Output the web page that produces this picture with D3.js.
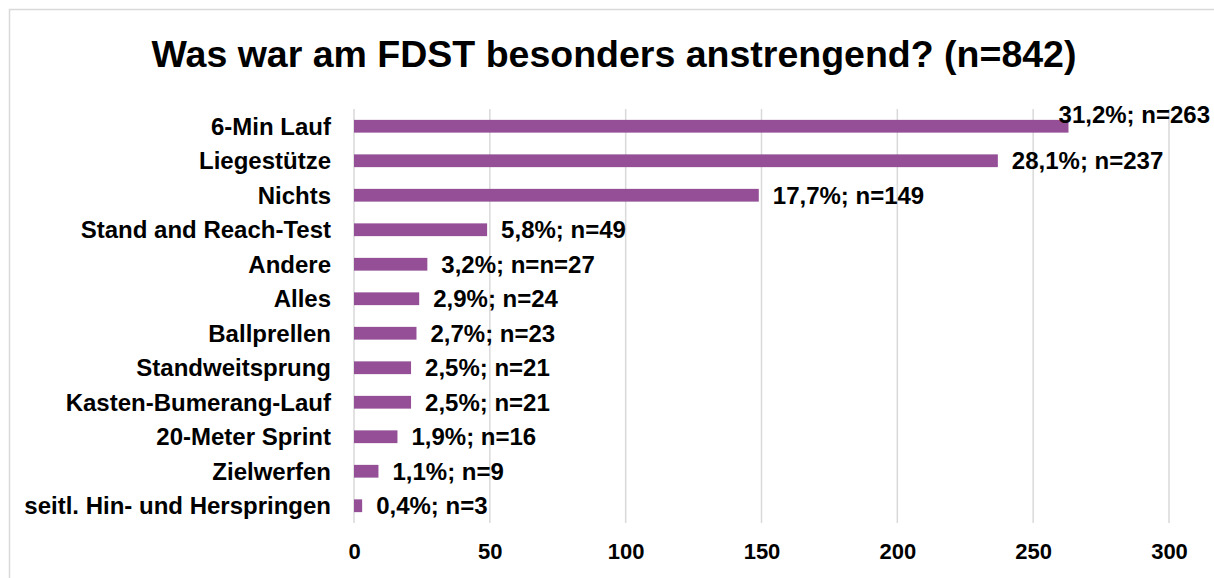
<!DOCTYPE html>
<html>
<head>
<meta charset="utf-8">
<script src="https://cdn.jsdelivr.net/npm/d3@7"></script>
<style>
  body { margin: 0; background: #fff; }
  svg text { font-family: "Liberation Sans", Arial, sans-serif; font-weight: bold; fill: #000; }
</style>
</head>
<body>
<svg id="chart" width="1214" height="578"></svg>
<script>
// Daten
let categories = ['6-Min Lauf', 'Liegestütze', 'Nichts', 'Stand and Reach-Test', 'Andere', 'Alles',
    'Ballprellen', 'Standweitsprung', 'Kasten-Bumerang-Lauf', '20-Meter Sprint', 'Zielwerfen',
    'seitl. Hin- und Herspringen'];
let counts = [263, 237, 149, 49, 27, 24, 23, 21, 21, 16, 9, 3];
let labels = ['31,2%; n=263', '28,1%; n=237', '17,7%; n=149', '5,8%; n=49', '3,2%; n=n=27', '2,9%; n=24',
    '2,7%; n=23', '2,5%; n=21', '2,5%; n=21', '1,9%; n=16', '1,1%; n=9', '0,4%; n=3'];
let xTicks = [0, 50, 100, 150, 200, 250, 300];
let title = 'Was war am FDST besonders anstrengend? (n=842)';

let svg = d3.select('#chart');
let W = 1214, H = 578;
let plot = { left: 354, right: 1169, top: 109, bottom: 523 };

// Rahmen
svg.append('rect')
    .attr('x', 9.5).attr('y', 9.5)
    .attr('width', W).attr('height', H)
    .attr('fill', 'none').attr('stroke', '#d9d9d9').attr('stroke-width', 1.5);

svg.append('text')
    .attr('x', 614).attr('y', 67)
    .attr('text-anchor', 'middle')
    .style('font-size', '37.5px')
    .text(title);

let x = d3.scaleLinear().domain([0, 300]).range([plot.left, plot.right]);
let y = d3.scaleBand().domain(categories).range([plot.top, plot.bottom]).paddingInner(0.63).paddingOuter(0.315);

// Gitterlinien
svg.append('g').selectAll('line').data(xTicks).enter()
    .append('line')
    .attr('x1', d => x(d)).attr('x2', d => x(d))
    .attr('y1', plot.top).attr('y2', plot.bottom)
    .attr('stroke', '#d9d9d9').attr('stroke-width', 1.5);

// Achse unten
let xAxis = svg.append('g')
    .attr('transform', `translate(0,${plot.bottom})`)
    .call(d3.axisBottom(x).tickValues(xTicks).tickSize(0).tickPadding(20));
xAxis.select('.domain').remove();
xAxis.selectAll('text')
    .style('font-size', '22px')
    .style('font-family', '"Liberation Sans", Arial, sans-serif')
    .style('font-weight', 'bold')
    .attr('fill', '#000');

// Kategorien
svg.append('g').selectAll('text').data(categories).enter()
    .append('text')
    .attr('x', 331)
    .attr('y', d => y(d) + y.bandwidth() / 2)
    .attr('dy', '0.35em')
    .attr('text-anchor', 'end')
    .style('font-size', '24px')
    .text(d => d);

// Balken
svg.append('g').selectAll('rect').data(counts).enter()
    .append('rect')
    .attr('x', x(0))
    .attr('y', (d, i) => y(categories[i]))
    .attr('width', d => x(d) - x(0))
    .attr('height', y.bandwidth())
    .attr('fill', '#954f97');

// Werte
let maxRight = 1210;
svg.append('g').selectAll('text').data(counts).enter()
    .append('text')
    .style('font-size', '24px')
    .attr('dy', '0.35em')
    .text((d, i) => labels[i])
    .each(function (d, i) {
        let t = d3.select(this);
        let w = this.getComputedTextLength();
        let tx = x(d) + 14, ty = y(categories[i]) + y.bandwidth() / 2;
        if (tx + w > maxRight) {
            tx = maxRight - w;
            ty -= 12;
        }
        t.attr('x', tx).attr('y', ty);
    });
</script>
</body>
</html>
